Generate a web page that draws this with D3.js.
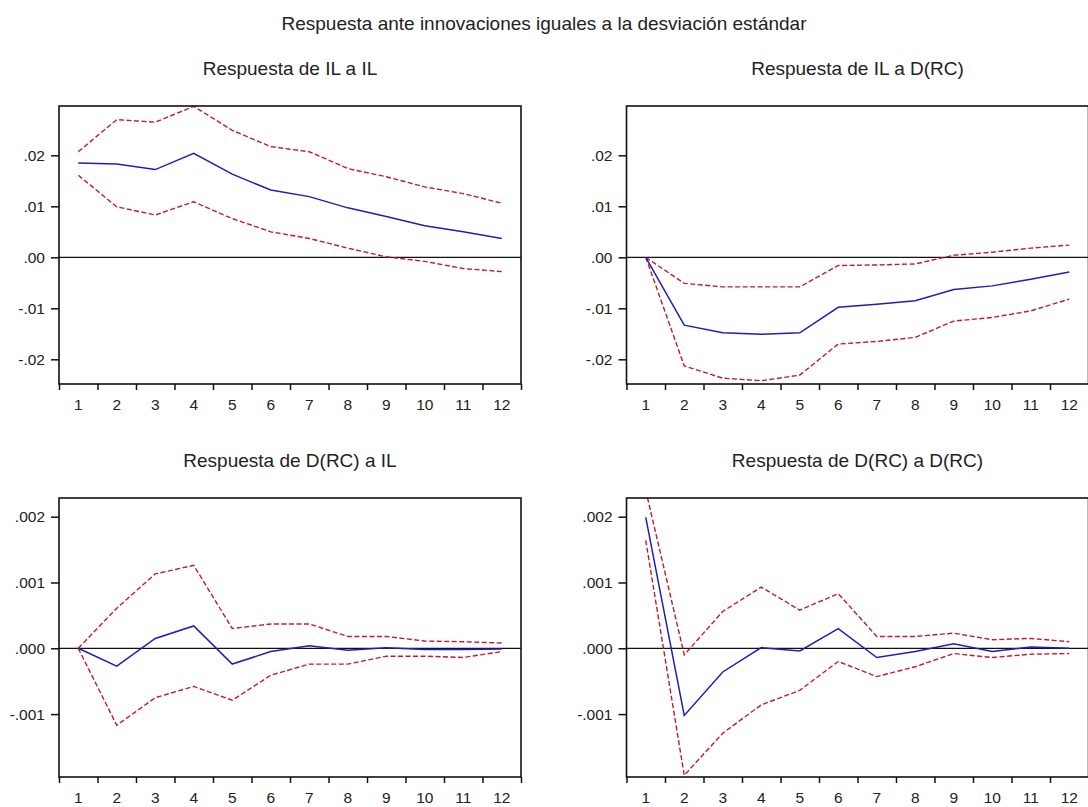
<!DOCTYPE html>
<html>
<head>
<meta charset="utf-8">
<script src="https://d3js.org/d3.v7.min.js"></script>
<style>
  body { margin: 0; background: #fff; }
  text { font-family: "Liberation Sans", Arial, sans-serif; fill: #222; }
</style>
</head>
<body>
<div id="chart"></div>
<script>
// horizonte (periodos)
var periods = [1, 2, 3, 4, 5, 6, 7, 8, 9, 10, 11, 12];

// Respuesta de IL a IL
var ilIlResp  = [0.0185, 0.0183, 0.0172, 0.0204, 0.0163, 0.0132, 0.0119, 0.0097, 0.0080, 0.0062, 0.0050, 0.0037];
var ilIlUpper = [0.0207, 0.0270, 0.0265, 0.0296, 0.0249, 0.0217, 0.0207, 0.0174, 0.0158, 0.0138, 0.0125, 0.0106];
var ilIlLower = [0.0161, 0.0099, 0.0083, 0.0109, 0.0076, 0.0050, 0.0037, 0.0018, 0.0001, -0.0008, -0.0022, -0.0028];

// Respuesta de IL a D(RC)
var ilRcResp  = [0, -0.0133, -0.0148, -0.0151, -0.0148, -0.0098, -0.0092, -0.0085, -0.0063, -0.0056, -0.0043, -0.0029];
var ilRcUpper = [0, -0.0051, -0.0058, -0.0058, -0.0058, -0.0016, -0.0015, -0.0013, 0.0004, 0.0010, 0.0018, 0.0024];
var ilRcLower = [0, -0.0213, -0.0237, -0.0242, -0.0231, -0.0170, -0.0165, -0.0157, -0.0125, -0.0118, -0.0105, -0.0082];

// Respuesta de D(RC) a IL
var rcIlResp  = [0, -0.00027, 0.00015, 0.00034, -0.00024, -0.00005, 0.00004, -0.00003, 0.00001, -0.00002, -0.00002, -0.00001];
var rcIlUpper = [0, 0.00061, 0.00113, 0.00126, 0.00030, 0.00037, 0.00037, 0.00018, 0.00018, 0.00011, 0.00010, 0.00008];
var rcIlLower = [0, -0.00117, -0.00075, -0.00058, -0.00079, -0.00041, -0.00024, -0.00024, -0.00012, -0.00012, -0.00014, -0.00005];

// Respuesta de D(RC) a D(RC)
var rcRcResp  = [0.00199, -0.00102, -0.00036, 0.00001, -0.00004, 0.00030, -0.00014, -0.00005, 0.00007, -0.00005, 0.00002, 0.00000];
var rcRcUpper = [0.00240, -0.00010, 0.00056, 0.00093, 0.00058, 0.00083, 0.00018, 0.00018, 0.00023, 0.00013, 0.00015, 0.00010];
var rcRcLower = [0.00164, -0.00193, -0.00129, -0.00086, -0.00064, -0.00020, -0.00043, -0.00028, -0.00008, -0.00014, -0.00009, -0.00008];

// ejes
var topTickVals   = [0.02, 0.01, 0, -0.01, -0.02];
var topTickLabels = [".02", ".01", ".00", "-.01", "-.02"];
var botTickVals   = [0.002, 0.001, 0, -0.001];
var botTickLabels = [".002", ".001", ".000", "-.001"];

var mainTitle = "Respuesta ante innovaciones iguales a la desviación estándar";

var W = 1088, H = 807;
var svg = d3.select("#chart").append("svg")
    .attr("width", W)
    .attr("height", H);

svg.append("text")
    .attr("x", 544)
    .attr("y", 30)
    .attr("text-anchor", "middle")
    .style("font-size", "19px")
    .text(mainTitle);

var panels = [
  { title: "Respuesta de IL a IL", resp: ilIlResp, up: ilIlUpper, lo: ilIlLower,
    left: 59, top: 106, h: 278, dom: [-0.02484, 0.02967], tv: topTickVals, tl: topTickLabels },
  { title: "Respuesta de IL a D(RC)", resp: ilRcResp, up: ilRcUpper, lo: ilRcLower,
    left: 626.5, top: 106, h: 278, dom: [-0.02484, 0.02967], tv: topTickVals, tl: topTickLabels },
  { title: "Respuesta de D(RC) a IL", resp: rcIlResp, up: rcIlUpper, lo: rcIlLower,
    left: 59, top: 498, h: 279, dom: [-0.001956, 0.002284], tv: botTickVals, tl: botTickLabels },
  { title: "Respuesta de D(RC) a D(RC)", resp: rcRcResp, up: rcRcUpper, lo: rcRcLower,
    left: 626.5, top: 498, h: 279, dom: [-0.001956, 0.002284], tv: botTickVals, tl: botTickLabels }
];

var pw = 462;

panels.forEach(function (p, k) {
  var g = svg.append("g").attr("transform", "translate(" + p.left + "," + p.top + ")");

  var x = d3.scaleLinear().domain([0.5, 12.5]).range([0, pw]);
  var y = d3.scaleLinear().domain(p.dom).range([p.h, 0]);

  // titulo del panel
  g.append("text")
      .attr("x", pw / 2)
      .attr("y", -31)
      .attr("text-anchor", "middle")
      .style("font-size", "19px")
      .text(p.title);

  // clip
  g.append("clipPath").attr("id", "clip" + k)
    .append("rect").attr("width", pw).attr("height", p.h);

  // eje y
  var ya = g.append("g")
      .call(d3.axisLeft(y).tickValues(p.tv).tickSize(8).tickPadding(6)
        .tickFormat(function (d, i) { return p.tl[i]; }));
  ya.select(".domain").remove();
  ya.selectAll("line").attr("stroke", "#111").attr("stroke-width", 1.5);
  ya.selectAll("text").style("font-size", "15.5px").style("font-family", "Liberation Sans, Arial, sans-serif").attr("fill", "#222");

  // eje x: marcas en los limites de cada periodo
  var xa = g.append("g")
      .attr("transform", "translate(0," + p.h + ")")
      .call(d3.axisBottom(x).tickValues(d3.range(0.5, 13, 1)).tickSize(6).tickFormat(""));
  xa.select(".domain").remove();
  xa.selectAll("line").attr("stroke", "#111").attr("stroke-width", 1.5);

  g.selectAll(".xlab")
      .data(periods)
      .enter().append("text")
      .attr("x", function (d) { return x(d); })
      .attr("y", p.h + 26)
      .attr("text-anchor", "middle")
      .style("font-size", "15.5px")
      .text(function (d) { return d; });

  var plot = g.append("g").attr("clip-path", "url(#clip" + k + ")");

  // linea cero
  plot.append("line")
      .attr("x1", 0).attr("x2", pw)
      .attr("y1", y(0)).attr("y2", y(0))
      .attr("stroke", "#111").attr("stroke-width", 1.3);

  var line = d3.line()
      .x(function (d, i) { return x(periods[i]); })
      .y(function (d) { return y(d); });

  [p.up, p.lo].forEach(function (s) {
    plot.append("path")
        .attr("d", line(s))
        .attr("fill", "none")
        .attr("stroke", "#c8182a")
        .attr("stroke-width", 1.4)
        .attr("stroke-dasharray", "5,2.5");
  });

  plot.append("path")
      .attr("d", line(p.resp))
      .attr("fill", "none")
      .attr("stroke", "#1e1eb8")
      .attr("stroke-width", 1.5);

  // marco
  g.append("rect")
      .attr("width", pw).attr("height", p.h)
      .attr("fill", "none")
      .attr("stroke", "#111")
      .attr("stroke-width", 1.6);
});
</script>
</body>
</html>
